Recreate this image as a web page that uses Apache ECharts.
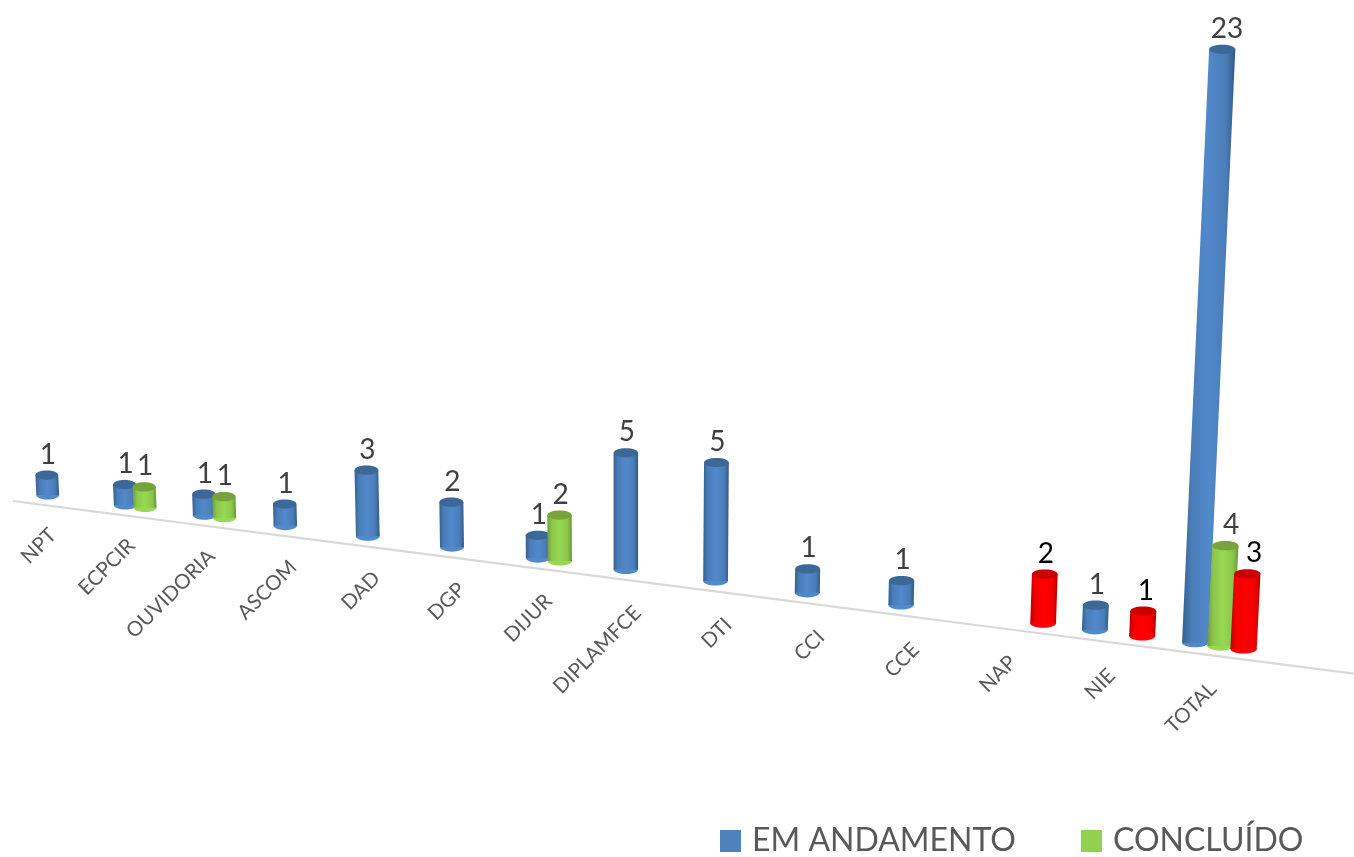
<!DOCTYPE html>
<html><head><meta charset="utf-8">
<style>html,body{margin:0;padding:0;background:#fff}#c{width:1354px;height:857px}</style>
<script src="https://cdn.jsdelivr.net/npm/echarts@6/dist/echarts.min.js"></script>
</head><body><div id="c"></div>
<script>
const categories = ['NPT','ECPCIR','OUVIDORIA','ASCOM','DAD','DGP','DIJUR','DIPLAMFCE','DTI','CCI','CCE','NAP','NIE','TOTAL'];
const emAndamento = [1,1,1,1,3,2,1,5,5,1,1,null,1,23];
const concluido   = [null,1,1,null,null,null,2,null,null,null,null,null,null,4];
const terceira    = [null,null,null,null,null,null,null,null,null,null,null,2,1,3];
const legendNames = ['EM ANDAMENTO','CONCLUÍDO'];

const FONT = 'Lato';
const PX = -0.01;
const axisY = x => 501 + (x - 13) * 0.1288;

function projX(api, i, off) {
  const x0 = api.coord([0, 0])[0], band = api.size([1, 0])[0];
  const t = i + off;
  return { x: x0 + band * t / (1 + PX * t), s: 1 / (1 + PX * t), t: t, band: band };
}
const grads = {
  blue:  ['#35608f', '#4a7db8', '#5189cb', '#4a7db8', '#315a87'],
  green: ['#6f9c3c', '#8bc64a', '#98d852', '#8bc64a', '#6a9638'],
  red:   ['#b80000', '#f50000', '#ff0000', '#f50000', '#b00000']
};
const caps = { blue: '#3c6897', green: '#76a33c', red: '#cc0000' };
function lg(c) {
  return { type: 'linear', x: 0, y: 0, x2: 1, y2: 0, colorStops: [
    { offset: 0, color: c[0] }, { offset: 0.18, color: c[1] }, { offset: 0.5, color: c[2] },
    { offset: 0.82, color: c[3] }, { offset: 1, color: c[4] }] };
}
function cylinder(key, off, labelColor) {
  return function (params, api) {
    const i = api.value(0), v = api.value(1);
    const p = projX(api, i, off);
    const hl = api.coord([i, 0])[1] - api.coord([i, v])[1];
    const hs = hl * (1 + 0.028 * p.t - 0.0007 * p.t * p.t);
    const h = hs * (1 + 6.6e-5 * hs);
    const bx = p.x + 1, by = axisY(bx) - 10.5;
    const tx = bx + 8e-5 * (bx - 625) * h, ty = by - h;
    const rx = p.band * 0.148 * p.s, ry = 4.6;
    const fill = lg(grads[key]);
    const ldx = 1 + Math.max(0, (bx - 1100) * 0.04);
    return { type: 'group', children: [
      { type: 'ellipse', shape: { cx: bx, cy: by, rx: rx, ry: ry }, style: { fill: grads[key][2] } },
      { type: 'polygon', shape: { points: [[tx - rx, ty], [tx + rx, ty], [bx + rx, by], [bx - rx, by]] }, style: { fill: fill } },
      { type: 'ellipse', shape: { cx: tx, cy: ty, rx: rx, ry: ry }, style: { fill: caps[key] } },
      { type: 'text', style: { text: String(v), x: tx + ldx, y: ty - 20.5, fontFamily: FONT, fontSize: 28, fill: labelColor, align: 'center', verticalAlign: 'middle' } }
    ] };
  };
}
function pts(arr) { return arr.map((v, i) => [i, v]).filter(d => d[1] != null); }
function renderAxis(params, api) {
  const i = api.value(0);
  const n = categories.length;
  const a = i === 0 ? 13 : projX(api, i, -0.5).x;
  const b = i === n - 1 ? 1354 : projX(api, i, 0.5).x;
  const c = projX(api, i, 0).x;
  return { type: 'group', children: [
    { type: 'line', shape: { x1: a, y1: axisY(a), x2: b, y2: axisY(b) }, style: { stroke: '#d9d9d9', lineWidth: 2.2 } },
    { type: 'text', rotation: Math.PI / 4, x: c - 13 + 0.5 * i, y: axisY(c) + 24 + 0.4 * i,
      style: { text: categories[i], fontFamily: FONT, fontSize: 20.5, fill: '#595959', align: 'right', verticalAlign: 'middle' } }
  ] };
}
const chart = echarts.init(document.getElementById('c'), null, { renderer: 'canvas' });
chart.setOption({
  animation: false,
  backgroundColor: '#ffffff',
  grid: { left: 66, width: 1003.6, top: 100, height: 500 },
  xAxis: { type: 'category', data: categories, boundaryGap: false, show: false },
  yAxis: { type: 'value', min: 0, max: 25, show: false },
  legend: {
    data: legendNames, left: 720, top: 825, itemWidth: 21, itemHeight: 22, itemGap: 65,
    icon: 'rect', padding: 0,
    textStyle: { fontFamily: FONT, fontSize: 32, color: '#595959', padding: [0, 0, 0, 6] }
  },
  series: [
    { type: 'custom', name: 'Eixo', data: categories.map((c, i) => [i, 0]), renderItem: renderAxis, silent: true, encode: { x: 0, y: 1 }, clip: false, z: 1 },
    { type: 'custom', name: legendNames[0], data: pts(emAndamento), renderItem: cylinder('blue', -0.25, '#404040'), encode: { x: 0, y: 1 }, clip: false, itemStyle: { color: '#4f81bd' }, z: 2 },
    { type: 'custom', name: legendNames[1], data: pts(concluido), renderItem: cylinder('green', 0, '#404040'), encode: { x: 0, y: 1 }, clip: false, itemStyle: { color: '#92d050' }, z: 3 },
    { type: 'custom', name: 'Terceira série', data: pts(terceira), renderItem: cylinder('red', 0.225, '#000000'), encode: { x: 0, y: 1 }, clip: false, itemStyle: { color: '#ff0000' }, z: 4 }
  ]
});
</script></body></html>
